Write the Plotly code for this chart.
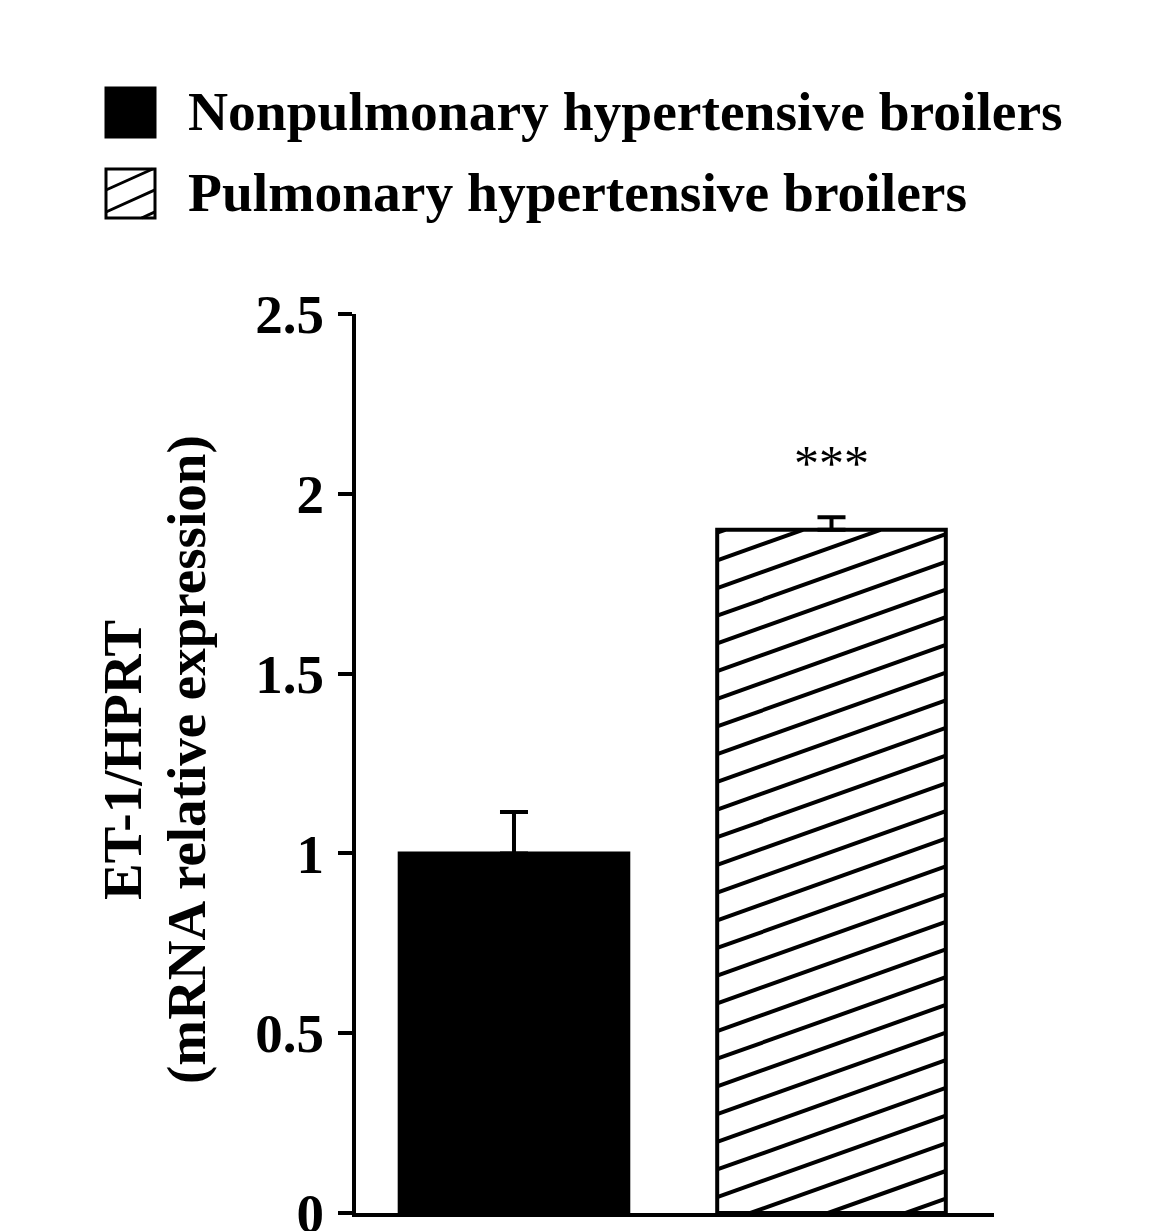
import math
import plotly.graph_objects as go

# ---------------- data ----------------
series_names = ["Nonpulmonary hypertensive broilers", "Pulmonary hypertensive broilers"]
values = [1.00, 1.90]
errors = [0.115, 0.035]
significance = ["", "***"]
y_tick_values = [0, 0.5, 1, 1.5, 2, 2.5]
y_tick_labels = ["0", "0.5", "1", "1.5", "2", "2.5"]
y_title_lines = ["ET-1/HPRT", "(mRNA relative expression)"]

# ---------------- layout constants ----------------
OFF = 8                       # page body margin
W, H = 1150 - OFF, 1231 - OFF
ML, MR, MT, MB = 356 - OFF, 156, 314 - OFF, 18
PW, PH = W - ML - MR, H - MT - MB
FONT = "Liberation Serif, Times New Roman, serif"
BAR_W = 0.72
X_RANGE = [-0.4976, 1.5118]
Y_RANGE = [0, 2.5]
HATCH_SLOPE = 0.315      # data units (y per x)
HATCH_SPACING = 0.077    # data units (vertical)
HATCH_PHASE = 0.044


def px_x(p):
    return (p - OFF - ML) / PW


def px_y(p):
    return (H - MB - (p - OFF)) / PH


def hatch_segments(xl, xr, yb, yt, slope, spacing, phase):
    """Parallel rising lines clipped to the rectangle [xl,xr]x[yb,yt]."""
    xs, ys = [], []
    w = xr - xl
    k0 = math.floor((yb - slope * w - phase) / spacing)
    k1 = math.ceil((yt - phase) / spacing)
    for k in range(k0, k1 + 1):
        c = phase + k * spacing
        if c >= yb:
            x0, y0 = xl, c
        else:
            x0, y0 = xl + (yb - c) / slope, yb
        yr = c + slope * w
        if yr <= yt:
            x1, y1 = xr, yr
        else:
            x1, y1 = xl + (yt - c) / slope, yt
        if x1 > x0 and y0 < yt and y1 > yb:
            xs += [x0, x1, None]
            ys += [y0, y1, None]
    return xs, ys


fig = go.Figure()

fills = ["black", "white"]
for i, (name, v, e) in enumerate(zip(series_names, values, errors)):
    fig.add_trace(go.Bar(
        x=[i], y=[v], name=name, width=BAR_W,
        marker=dict(color=fills[i], line=dict(color="black", width=4)),
        error_y=dict(type="data", array=[e], arrayminus=[0], symmetric=False,
                     color="black", thickness=4, width=14),
        showlegend=False,
    ))

# hatch for the second (pulmonary) bar, computed from its value
hx, hy = hatch_segments(1 - BAR_W / 2, 1 + BAR_W / 2, 0, values[1],
                        HATCH_SLOPE, HATCH_SPACING, HATCH_PHASE)
fig.add_trace(go.Scatter(x=hx, y=hy, mode="lines",
                         line=dict(color="black", width=4),
                         hoverinfo="skip", showlegend=False))

# significance marks
for i, (v, e, s) in enumerate(zip(values, errors, significance)):
    if s:
        fig.add_annotation(x=i, y=v + e, text=s, showarrow=False,
                           xref="x", yref="y", yanchor="bottom", yshift=24,
                           font=dict(family=FONT, size=50, color="black"))

# y-axis title (two lines)
for text, cx in zip(y_title_lines, [122, 186]):
    fig.add_annotation(x=px_x(cx), y=px_y(760), xref="paper", yref="paper",
                       text=f"<b>{text}</b>", textangle=-90, showarrow=False,
                       xanchor="center", yanchor="middle",
                       font=dict(family=FONT, size=55, color="black"))

# legend (drawn manually to get large swatches)
legend_rows = [(88, 137), (169, 218)]
for i, (name, (top, bot)) in enumerate(zip(series_names, legend_rows)):
    fig.add_shape(type="rect", xref="paper", yref="paper",
                  x0=px_x(106), x1=px_x(155), y0=px_y(bot), y1=px_y(top),
                  line=dict(color="black", width=3), fillcolor=fills[i])
    if i == 1:
        sx, sy = hatch_segments(106, 155, -bot, -top, 0.45, 22, -bot + 6)
        path = ""
        for j in range(0, len(sx), 3):
            path += (f"M{px_x(sx[j])},{px_y(-sy[j])} "
                     f"L{px_x(sx[j + 1])},{px_y(-sy[j + 1])} ")
        fig.add_shape(type="path", path=path, xref="paper", yref="paper",
                      line=dict(color="black", width=3))
    fig.add_annotation(x=px_x(186), y=px_y((top + bot) / 2 - 1),
                       xref="paper", yref="paper", text=f"<b>{name}</b>",
                       showarrow=False, xanchor="left", yanchor="middle",
                       font=dict(family=FONT, size=55.5, color="black"))

fig.update_layout(
    template="none",
    width=W, height=H,
    margin=dict(l=ML, r=MR, t=MT, b=MB, pad=0),
    paper_bgcolor="white", plot_bgcolor="white",
    barmode="overlay",
    showlegend=False,
    xaxis=dict(range=X_RANGE, showline=True, linecolor="black", linewidth=4,
               showticklabels=False, ticks="", showgrid=False, zeroline=False,
               automargin=False, fixedrange=True),
    yaxis=dict(range=Y_RANGE, tickvals=y_tick_values, ticktext=y_tick_labels,
               showline=True, linecolor="black", linewidth=4,
               ticks="outside", ticklen=14, tickwidth=4, tickcolor="black",
               ticklabelstandoff=3, ticklabeloverflow="allow",
               tickfont=dict(family=FONT, size=55, color="black", weight="bold"),
               showgrid=False, zeroline=False, automargin=False, fixedrange=True),
)

fig.write_html("out.html")
